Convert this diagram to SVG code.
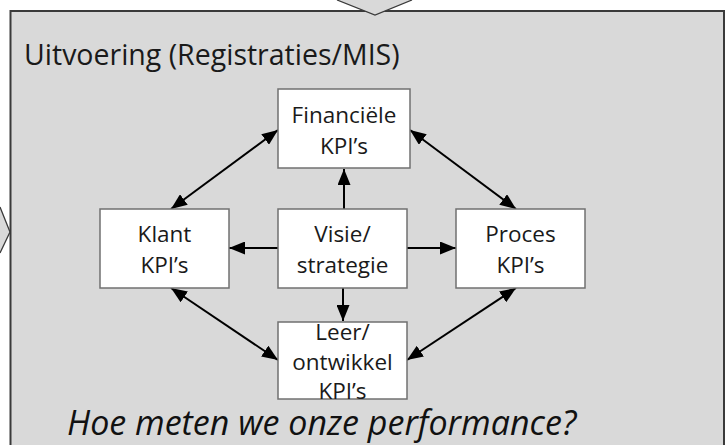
<svg xmlns="http://www.w3.org/2000/svg" width="725" height="445" viewBox="0 0 725 445">
<style>
.node rect{fill:#ffffff;stroke:#707070;stroke-width:1.5}
.lbl{font-family:"Open Sans","Liberation Sans",sans-serif;font-size:22.5px;fill:#1a1a1a;text-anchor:middle}
.con line{stroke:#000;stroke-width:2}
.title{font-family:"Open Sans","Liberation Sans",sans-serif;font-size:28.5px;fill:#1a1a1a}
.q{font-family:"Open Sans","Liberation Sans",sans-serif;font-size:34px;font-style:italic;fill:#111}
</style>
<defs>
<marker id="ah" viewBox="0 0 16 13" refX="16" refY="6.5" markerWidth="16" markerHeight="13" markerUnits="userSpaceOnUse" orient="auto-start-reverse">
<path d="M0,0 L16,6.5 L0,13 z" fill="#000"/>
</marker>
</defs>
<rect width="725" height="445" fill="#ffffff"/>
<g id="panel">
<rect x="10.5" y="11" width="713.5" height="450" fill="#d9d9d9" stroke="#3a3a3a" stroke-width="2"/>
<polygon points="337,0 375,15 412,0" fill="#d9d9d9" stroke="none"/>
<polyline points="337,0 375,15 412,0" fill="none" stroke="#3a3a3a" stroke-width="1.3"/>
<polygon points="0,207 10,232 0,253" fill="#d9d9d9" stroke="none"/>
<polyline points="0,207 10,232 0,253" fill="none" stroke="#3a3a3a" stroke-width="1.3"/>
<text class="title" x="24" y="65">Uitvoering (Registraties/MIS)</text>
</g>
<g id="connectors" class="con">
<line x1="344" y1="209" x2="344" y2="169" marker-end="url(#ah)"/>
<line x1="278" y1="248" x2="229" y2="248" marker-end="url(#ah)"/>
<line x1="407" y1="248" x2="456" y2="248" marker-end="url(#ah)"/>
<line x1="343" y1="288" x2="343" y2="321" marker-end="url(#ah)"/>
<line x1="171" y1="209" x2="278" y2="130" marker-start="url(#ah)" marker-end="url(#ah)"/>
<line x1="171" y1="288" x2="278" y2="360" marker-start="url(#ah)" marker-end="url(#ah)"/>
<line x1="410" y1="130" x2="516" y2="209" marker-start="url(#ah)" marker-end="url(#ah)"/>
<line x1="516" y1="288" x2="407" y2="360" marker-start="url(#ah)" marker-end="url(#ah)"/>
</g>
<g id="fin" class="node">
<rect x="278" y="89" width="132" height="79"/>
<text class="lbl" x="344" y="123">Financiële</text>
<text class="lbl" x="344" y="154">KPI’s</text>
</g>
<g id="klant" class="node">
<rect x="100" y="209" width="129" height="79"/>
<text class="lbl" x="164.5" y="242">Klant</text>
<text class="lbl" x="164.5" y="273">KPI’s</text>
</g>
<g id="visie" class="node">
<rect x="278" y="209" width="129" height="79"/>
<text class="lbl" x="342.5" y="242">Visie/</text>
<text class="lbl" x="342.5" y="273">strategie</text>
</g>
<g id="proces" class="node">
<rect x="456" y="209" width="129" height="79"/>
<text class="lbl" x="520.5" y="242">Proces</text>
<text class="lbl" x="520.5" y="273">KPI’s</text>
</g>
<g id="leer" class="node">
<rect x="278" y="322" width="129" height="77"/>
<text class="lbl" x="342.5" y="340">Leer/</text>
<text class="lbl" x="342.5" y="370">ontwikkel</text>
<text class="lbl" x="342.5" y="399">KPI’s</text>
</g>
<text class="q" x="67" y="435">Hoe meten we onze performance?</text>
</svg>
